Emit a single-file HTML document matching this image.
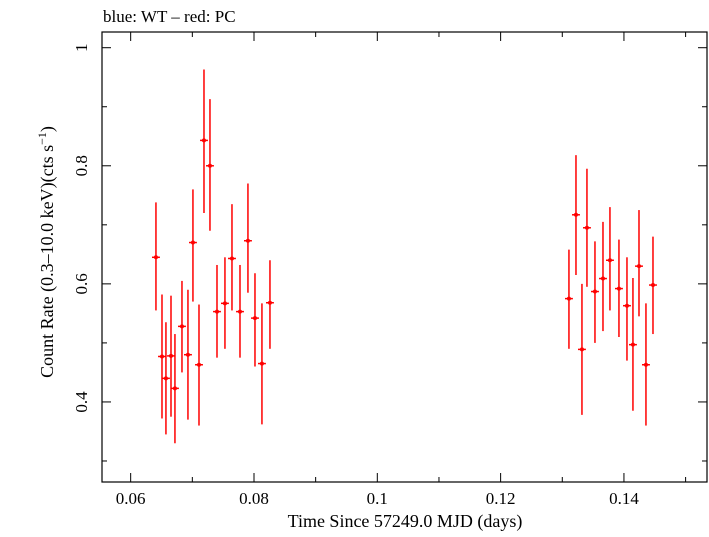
<!DOCTYPE html>
<html><head><meta charset="utf-8"><style>
body{margin:0;background:#fff;width:709px;height:532px;overflow:hidden}
svg text{font-family:"Liberation Serif",serif;fill:#000}
</style></head><body>
<svg id="chart" width="709" height="532" viewBox="0 0 709 532" xmlns="http://www.w3.org/2000/svg">
<text x="103" y="22" font-size="17">blue: WT – red: PC</text>
<rect x="102" y="32" width="605" height="450" fill="none" stroke="#000" stroke-width="1.2"/>
<g id="ticks"></g>
<g id="marks"></g>
<text x="405" y="527" font-size="18" text-anchor="middle">Time Since 57249.0 MJD (days)</text>
<text transform="translate(53,252) rotate(-90)" font-size="18" text-anchor="middle">Count Rate (0.3–10.0 keV)(cts s<tspan font-size="12" dy="-7">−1</tspan><tspan dy="7">)</tspan></text>
</svg>
<script>
const times=[0.0641,0.06508,0.06572,0.06654,0.06718,0.06832,0.06929,0.0701,0.07108,0.07189,0.07286,0.074,0.07529,0.07643,0.07773,0.07902,0.08016,0.08129,0.08259,0.13108,0.13222,0.13319,0.134,0.1353,0.1366,0.13773,0.13919,0.14049,0.14146,0.14244,0.14357,0.14471];
const rates=[0.645,0.477,0.44,0.478,0.423,0.528,0.48,0.67,0.463,0.843,0.8,0.553,0.567,0.643,0.553,0.673,0.542,0.465,0.568,0.575,0.717,0.489,0.695,0.587,0.609,0.64,0.592,0.563,0.497,0.63,0.463,0.598];
const errLo=[0.555,0.372,0.345,0.375,0.33,0.45,0.37,0.57,0.36,0.72,0.69,0.475,0.49,0.555,0.475,0.585,0.46,0.362,0.49,0.49,0.615,0.378,0.595,0.5,0.52,0.555,0.51,0.47,0.385,0.545,0.36,0.515];
const errHi=[0.738,0.582,0.535,0.58,0.515,0.605,0.59,0.76,0.565,0.963,0.913,0.632,0.645,0.735,0.632,0.77,0.618,0.567,0.64,0.658,0.818,0.6,0.795,0.672,0.705,0.73,0.675,0.645,0.61,0.725,0.567,0.68];
const xTickLabels=["0.06","0.08","0.1","0.12","0.14"];
const yTickLabels=["0.4","0.6","0.8","1"];
const xHalf=0.00064;
const X0=102,X1=707,Y0=32,Y1=482;
const xMin=0.05535,xMax=0.15347,yMin=0.2644,yMax=1.0266;
function sx(v){return X0+(v-xMin)/(xMax-xMin)*(X1-X0);}
function sy(v){return Y1-(v-yMin)/(yMax-yMin)*(Y1-Y0);}
const NS="http://www.w3.org/2000/svg";
function mk(tag,attrs,parent){const e=document.createElementNS(NS,tag);for(const k in attrs)e.setAttribute(k,attrs[k]);parent.appendChild(e);return e;}
const tg=document.getElementById('ticks');
for(let v=0.06;v<0.1531;v+=0.01){const major=Math.abs(v/0.02-Math.round(v/0.02))<1e-6;const x=sx(v);const L=major?9:5;
 const t=mk('line',{x1:x,x2:x,y1:Y1,y2:Y1-L,stroke:'#000','stroke-width':1},tg);
 
 
 const t2=mk('line',{x1:x,x2:x,y1:Y0,y2:Y0+L,stroke:'#000','stroke-width':1},tg);
 
 }
xTickLabels.forEach(s=>{const tx=mk('text',{x:sx(parseFloat(s)),y:504,'font-size':17,'text-anchor':'middle'},tg);tx.textContent=s;
 
 });
for(let v=0.3;v<1.03;v+=0.1){const major=Math.abs(v/0.2-Math.round(v/0.2))<1e-6;const y=sy(v);const L=major?9:5;
 const t=mk('line',{x1:X0,x2:X0+L,y1:y,y2:y,stroke:'#000','stroke-width':1},tg);
 
 
 const t2=mk('line',{x1:X1,x2:X1-L,y1:y,y2:y,stroke:'#000','stroke-width':1},tg);
 
 }
yTickLabels.forEach(s=>{const tx=mk('text',{x:0,y:0,'font-size':17,'text-anchor':'middle',transform:`translate(87,${sy(parseFloat(s))}) rotate(-90)`},tg);tx.textContent=s;
 
 });
const mg=document.getElementById('marks');
times.forEach((t,i)=>{const x=sx(t),y=sy(rates[i]);
 const g=mk('g',{},mg);
 
 
 mk('line',{x1:x,x2:x,y1:sy(errLo[i]),y2:sy(errHi[i]),stroke:'#f00','stroke-width':1.5},g);
 mk('line',{x1:sx(t-xHalf),x2:sx(t+xHalf),y1:y,y2:y,stroke:'#f00','stroke-width':1.5},g);
 mk('circle',{cx:x,cy:y,r:2,fill:'#f00'},g);});
</script>
</body></html>
